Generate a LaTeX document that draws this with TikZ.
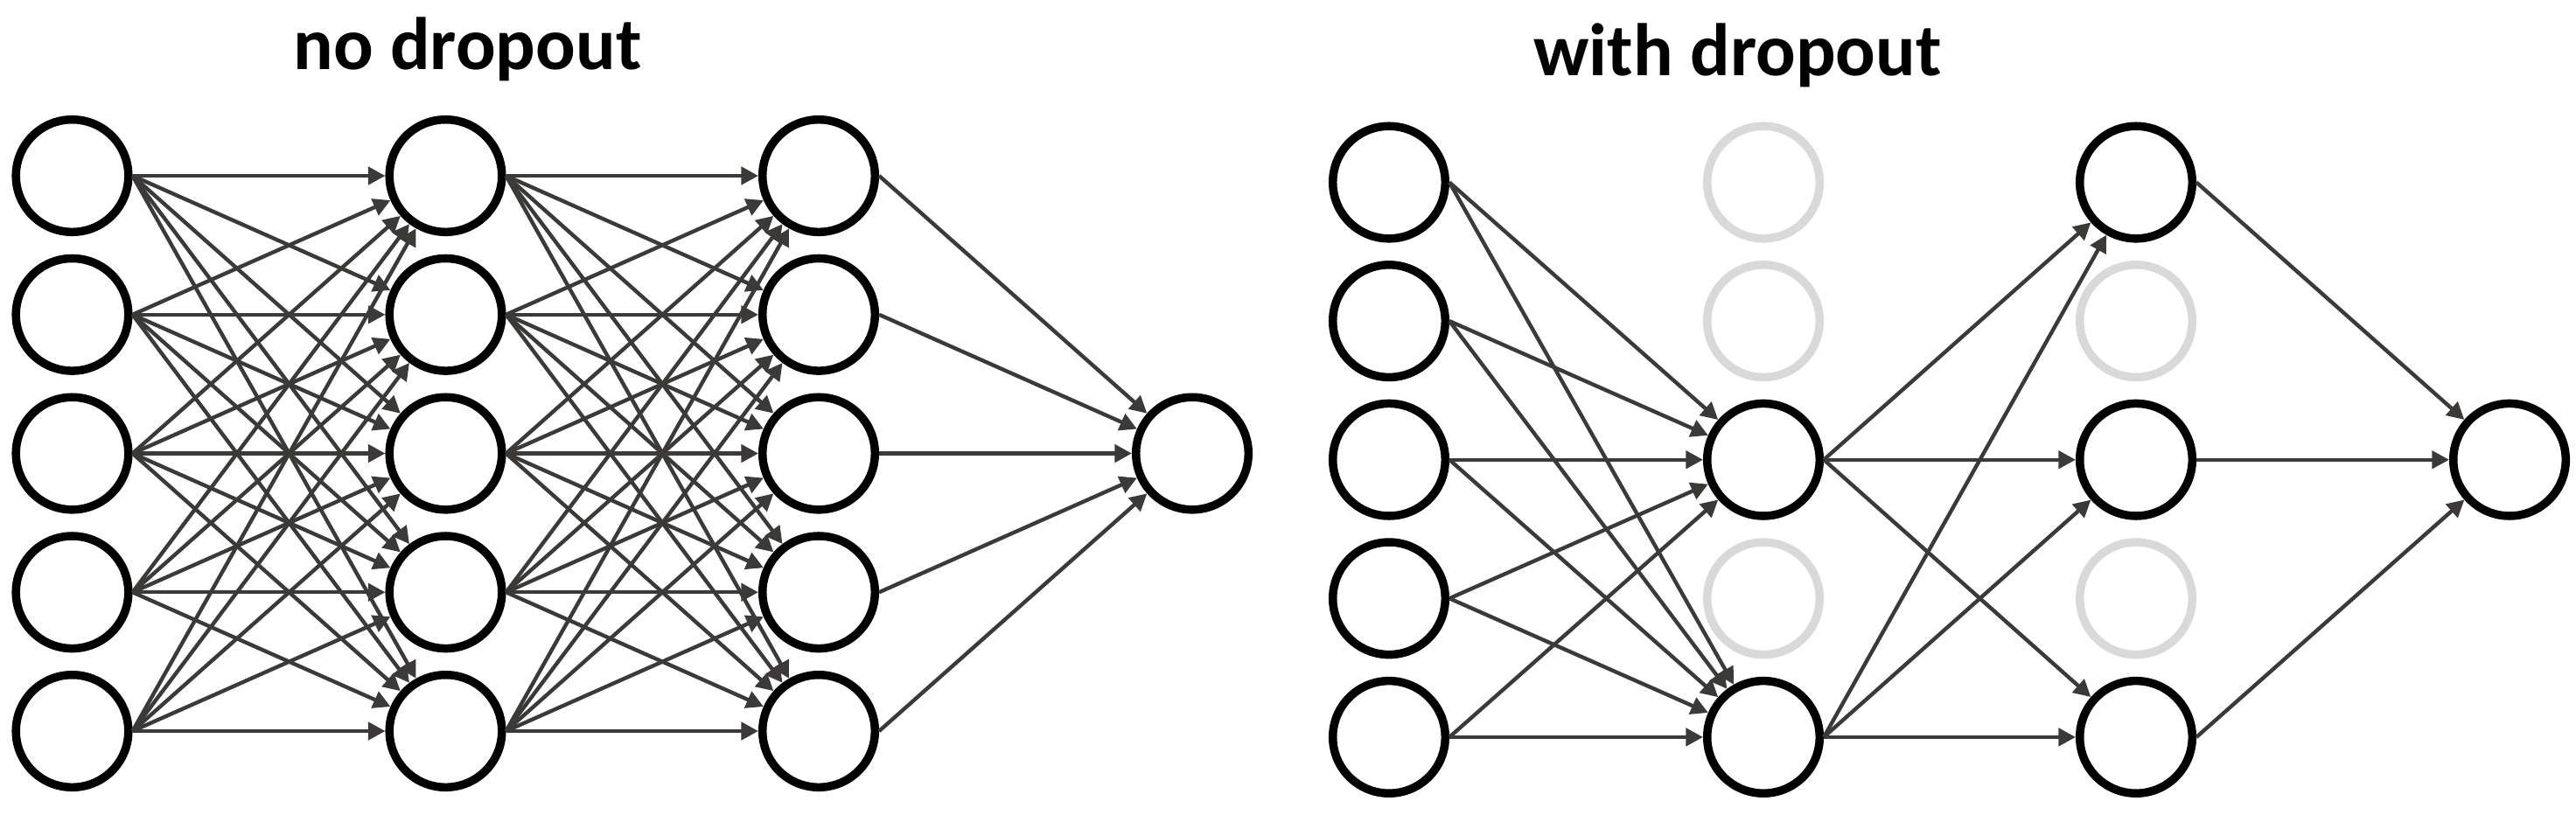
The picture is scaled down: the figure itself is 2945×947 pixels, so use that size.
\documentclass[tikz,border=0pt]{standalone}
\usepackage{fontspec}
\setmainfont{Carlito}
\usetikzlibrary{arrows.meta}
\definecolor{edgecol}{RGB}{59,58,56}
\definecolor{dropcol}{RGB}{217,217,217}
\begin{document}
\begin{tikzpicture}[x=0.01cm,y=-0.01cm,
  neuron/.style={circle,draw=black,fill=white,line width=0.095cm,minimum size=1.285cm,inner sep=0pt},
  dropped/.style={neuron,draw=dropcol},
  conn/.style={draw=edgecol,line width=0.044cm,-{Triangle[length=0.195cm,width=0.2cm]}},
  ttl/.style={anchor=base,font=\fontsize{24.2pt}{29pt}\selectfont\bfseries,inner sep=0pt}]
\useasboundingbox (0,0) rectangle (2945,947);
% titles
\node[ttl] (t1) at (534.5,79) {no dropout};
\node[ttl] (t2) at (1986.5,86) {with dropout};
% ---- left network (no dropout)
\foreach \c/\x in {1/82.5,2/509.5,3/936}{
  \foreach \r in {1,...,5}{
    \node[neuron] (L\c\r) at (\x,{201+158.75*(\r-1)}) {};
  }
}
\node[neuron] (L4) at (1363,518.5) {};
\foreach \i in {1,...,5}{
  \foreach \j in {1,...,5}{
    \draw[conn] (L1\i.east) -- (L2\j);
    \draw[conn] (L2\i.east) -- (L3\j);
  }
  \draw[conn] (L3\i.east) -- (L4);
}
% ---- right network (with dropout)
\foreach \r in {1,...,5}{
  \node[neuron] (R1\r) at (1588,{208.5+158.6*(\r-1)}) {};
}
\foreach \r/\s in {1/dropped,2/dropped,3/neuron,4/dropped,5/neuron}{
  \node[\s] (R2\r) at (2016,{208.5+158.6*(\r-1)}) {};
}
\foreach \r/\s in {1/neuron,2/dropped,3/neuron,4/dropped,5/neuron}{
  \node[\s] (R3\r) at (2442,{208.5+158.6*(\r-1)}) {};
}
\node[neuron] (R4) at (2869,525.7) {};
\foreach \i in {1,...,5}{
  \draw[conn] (R1\i.east) -- (R23);
  \draw[conn] (R1\i.east) -- (R25);
}
\foreach \i in {3,5}{
  \foreach \j in {1,3,5}{
    \draw[conn] (R2\i.east) -- (R3\j);
  }
}
\foreach \i in {1,3,5}{
  \draw[conn] (R3\i.east) -- (R4);
}
\end{tikzpicture}
\end{document}
